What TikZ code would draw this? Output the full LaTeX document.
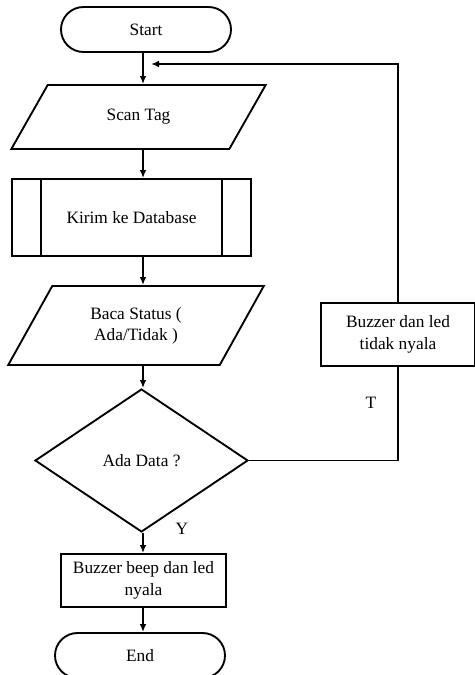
\documentclass[tikz,border=0pt]{standalone}
\usepackage{fontspec}
\setmainfont{Liberation Serif}
\usetikzlibrary{shapes.geometric,shapes.misc,arrows.meta}

\begin{document}
\begin{tikzpicture}[x=0.75pt,y=-0.75pt,
  every node/.style={font=\fontsize{13}{16}\selectfont},
  line/.style={line width=1.4pt},
  arr/.style={line, -{Latex[length=6pt,width=5pt]}},
  terminal/.style={draw, line, rounded rectangle, minimum width=127.5pt, minimum height=33.75pt, inner sep=0pt},
  io/.style={draw, line, trapezium, trapezium stretches=true, trapezium left angle=#1, trapezium right angle={180-#1}, inner sep=0pt, align=center},
  process/.style={draw, line, rectangle, inner sep=0pt, align=center},
  decision/.style={draw, line, diamond, aspect=1.5, minimum width=159.75pt, minimum height=107.25pt, inner sep=0pt}
]
\useasboundingbox (0,0) rectangle (475,675);

% Main flow
\node[terminal] (start) at (146,29.5) {Start};
\node[io=50, minimum width=191.25pt, minimum height=48pt] (scan) at (138.5,117) {Scan Tag};
\node[process, minimum width=179.25pt, minimum height=57.75pt] (kirim) at (131.5,217.5) {Kirim ke Database};
\draw[line] ([xshift=22.5pt]kirim.north west) -- ([xshift=22.5pt]kirim.south west);
\draw[line] ([xshift=-22.5pt]kirim.north east) -- ([xshift=-22.5pt]kirim.south east);
\node[io=57, minimum width=192pt, minimum height=59.25pt] (baca) at (136,325.5) {Baca Status (\\Ada/Tidak )};
\node[decision] (cek) at (141.5,460.5) {Ada Data ?};
\node[process, minimum width=123.75pt, minimum height=39.75pt] (nyala) at (143.5,580.5) {Buzzer beep dan led\\nyala};
\node[terminal] (end) at (140,655.5) {End};

% Side branch
\node[process, minimum width=115.5pt, minimum height=47.25pt] (mati) at (398,334.5) {Buzzer dan led\\tidak nyala};

% Arrows
\coordinate (mid) at (143,0);
\coordinate (loop) at (151,64);
\draw[arr] (start.south -| mid) -- (scan.north -| mid);
\draw[arr] (scan.south -| mid) -- (kirim.north -| mid);
\draw[arr] (kirim.south -| mid) -- (baca.north -| mid);
\draw[arr] (baca.south -| mid) -- (cek.north -| mid);
\draw[arr] (cek.south -| mid) -- (nyala.north -| mid);
\draw[arr] (nyala.south -| mid) -- (end.north -| mid);
\draw[line] (cek.east) -| (mati.south);
\draw[arr] (mati.north) |- (loop);

% Labels
\node (t) at (371,403) {T};
\node (y) at (182,529) {Y};
\end{tikzpicture}
\end{document}
